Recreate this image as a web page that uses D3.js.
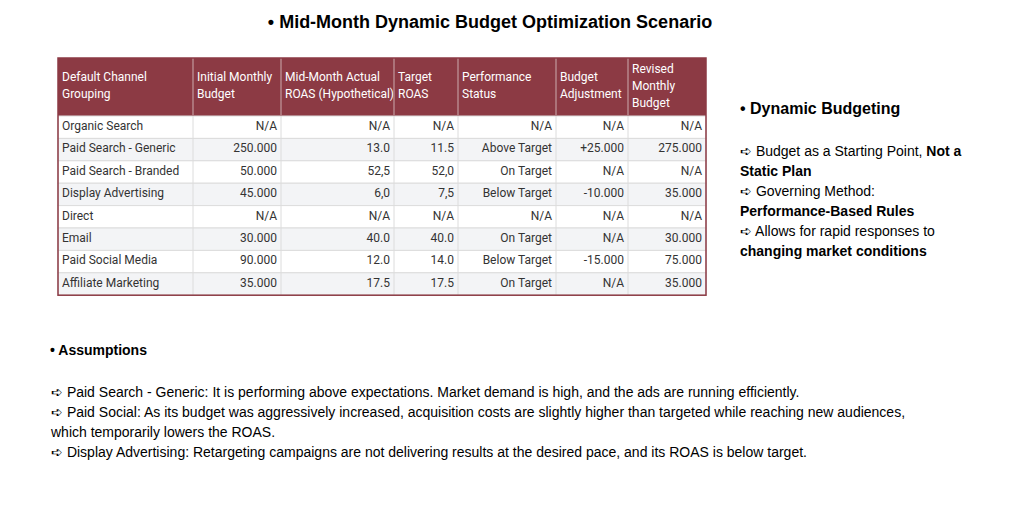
<!DOCTYPE html>
<html><head><meta charset="utf-8">
<script src="https://cdn.jsdelivr.net/npm/d3@7"></script>
<style>body{margin:0;background:#fff}</style>
</head><body>
<svg id="chart" width="1024" height="514"></svg>
<script>
// Table content
const headers = [
  ['Default Channel', 'Grouping'],
  ['Initial Monthly', 'Budget'],
  ['Mid-Month Actual', 'ROAS (Hypothetical)'],
  ['Target', 'ROAS'],
  ['Performance', 'Status'],
  ['Budget', 'Adjustment'],
  ['Revised', 'Monthly', 'Budget']
];
const channels   = ['Organic Search', 'Paid Search - Generic', 'Paid Search - Branded', 'Display Advertising', 'Direct', 'Email', 'Paid Social Media', 'Affiliate Marketing'];
const initBudget = ['N/A', '250.000', '50.000', '45.000', 'N/A', '30.000', '90.000', '35.000'];
const actualRoas = ['N/A', '13.0', '52,5', '6,0', 'N/A', '40.0', '12.0', '17.5'];
const targetRoas = ['N/A', '11.5', '52,0', '7,5', 'N/A', '40.0', '14.0', '17.5'];
const status     = ['N/A', 'Above Target', 'On Target', 'Below Target', 'N/A', 'On Target', 'Below Target', 'On Target'];
const adjustment = ['N/A', '+25.000', 'N/A', '-10.000', 'N/A', 'N/A', '-15.000', 'N/A'];
const revised    = ['N/A', '275.000', 'N/A', '35.000', 'N/A', '30.000', '75.000', '35.000'];

const sideLines = [
  [['➪ Budget as a Starting Point, ', false], ['Not a', true]],
  [['Static Plan', true]],
  [['➪ Governing Method:', false]],
  [['Performance-Based Rules', true]],
  [['➪ Allows for rapid responses to', false]],
  [['changing market conditions', true]]
];
const assumptions = [
  '➪ Paid Search - Generic: It is performing above expectations. Market demand is high, and the ads are running efficiently.',
  '➪ Paid Social: As its budget was aggressively increased, acquisition costs are slightly higher than targeted while reaching new audiences,',
  'which temporarily lowers the ROAS.',
  '➪ Display Advertising: Retargeting campaigns are not delivering results at the desired pace, and its ROAS is below target.'
];

const svg = d3.select('#chart');
const sans = 'Liberation Sans, Arial, sans-serif';

// Title
svg.append('text').attr('x', 490).attr('y', 28).attr('text-anchor', 'middle')
  .style('font', `bold 18px ${sans}`).attr('fill', '#000')
  .text('• Mid-Month Dynamic Budget Optimization Scenario');

// Table
const colEdges = [58, 193, 281, 394, 458, 556, 628, 706];
const tableTop = 58, headH = 58, rowH = 22.4;
const rows = channels.map((c, i) => [c, initBudget[i], actualRoas[i], targetRoas[i], status[i], adjustment[i], revised[i]]);
const y = d3.scaleBand().domain(d3.range(rows.length)).range([tableTop + headH, tableTop + headH + rowH * rows.length]);

const tbl = svg.append('g').style('font-family', 'Roboto, sans-serif').style('font-size', '12px');
tbl.append('rect').attr('x', colEdges[0]).attr('y', tableTop).attr('width', colEdges[7] - colEdges[0]).attr('height', headH).attr('fill', '#8c3a44');

headers.forEach((h, j) => {
  const yStart = h.length === 3 ? tableTop + 15 : tableTop + 23;
  h.forEach((line, k) => {
    tbl.append('text').attr('x', colEdges[j] + 4).attr('y', yStart + k * 17)
      .attr('fill', '#fff').text(line);
  });
});

const rg = tbl.selectAll('g.row').data(rows).enter().append('g').attr('class', 'row')
  .attr('transform', (d, i) => `translate(0,${y(i)})`);
rg.append('rect').attr('x', colEdges[0]).attr('width', colEdges[7] - colEdges[0]).attr('height', rowH)
  .attr('fill', (d, i) => i % 2 ? '#f3f4f6' : '#fff').attr('stroke', '#dcdcdc');
rg.selectAll('text').data(d => d).enter().append('text')
  .attr('x', (d, j) => j === 0 ? colEdges[0] + 4 : colEdges[j + 1] - 4)
  .attr('y', 14).attr('text-anchor', (d, j) => j === 0 ? 'start' : 'end')
  .attr('fill', '#333').text(d => d);

// vertical grid lines
tbl.selectAll('line.v').data(colEdges.slice(1, 7)).enter().append('line')
  .attr('x1', d => d).attr('x2', d => d).attr('y1', tableTop).attr('y2', y(rows.length - 1) + rowH)
  .attr('stroke', '#dcdcdc');
tbl.selectAll('line.vh').data(colEdges.slice(1, 7)).enter().append('line')
  .attr('x1', d => d).attr('x2', d => d).attr('y1', tableTop).attr('y2', tableTop + headH)
  .attr('stroke', '#a45a62');
tbl.append('rect').attr('x', colEdges[0]).attr('y', tableTop).attr('width', colEdges[7] - colEdges[0])
  .attr('height', headH + rowH * rows.length).attr('fill', 'none').attr('stroke', '#8c3a44').attr('stroke-width', 1.5);

// Side panel
svg.append('text').attr('x', 740).attr('y', 114).style('font', `bold 16px ${sans}`).text('• Dynamic Budgeting');
sideLines.forEach((parts, i) => {
  const t = svg.append('text').attr('x', 740).attr('y', 156 + i * 20).style('font', `14px ${sans}`);
  parts.forEach(([s, b]) => t.append('tspan').style('font-weight', b ? 'bold' : 'normal').text(s));
});

// Assumptions
svg.append('text').attr('x', 50).attr('y', 355).style('font', `bold 14px ${sans}`).text('• Assumptions');
assumptions.forEach((s, i) => {
  svg.append('text').attr('x', 51).attr('y', 397 + i * 20).style('font', `14px ${sans}`).text(s);
});
</script>
</body></html>
